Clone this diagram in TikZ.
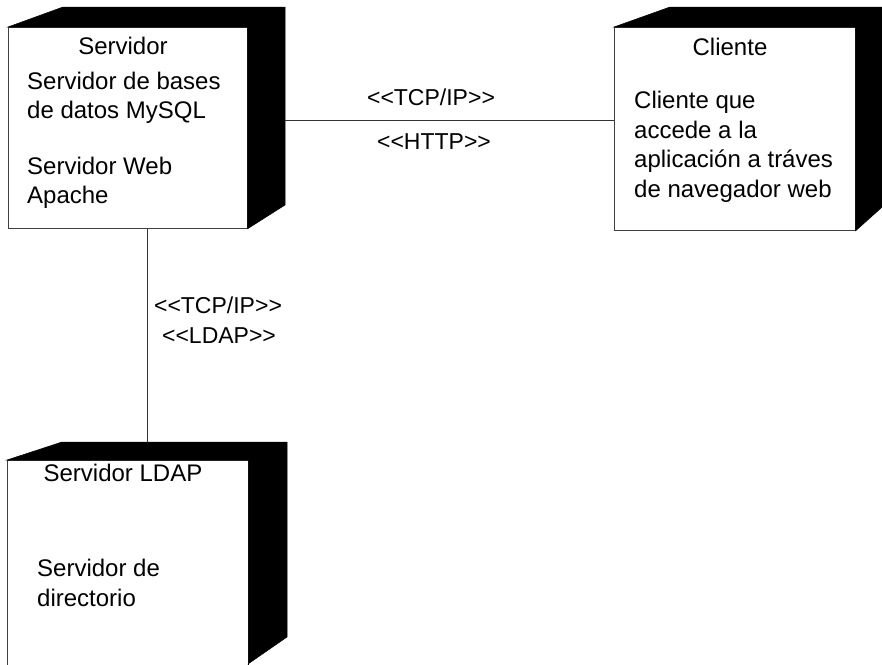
\documentclass[tikz,border=0pt]{standalone}
\usepackage{fontspec}
\setmainfont{Liberation Sans}
\begin{document}
\begin{tikzpicture}[x=1pt,y=-1pt,
  front/.style={draw=black!75,line width=0.7pt,fill=white,inner sep=0pt,anchor=north west},
  depth/.style={fill=black,draw=black,line width=0.5pt,line join=miter},
  txt/.style={inner sep=0pt,font=\fontsize{24}{29.5}\selectfont,align=left},
  lbl/.style={inner sep=0pt,font=\fontsize{23}{28}\selectfont},
  link/.style={draw=black!80,line width=0.7pt}]
\path[use as bounding box,clip] (0,0) rectangle (882,664);

% --- Servidor node (3D box) ---
\node[front,minimum width=239pt,minimum height=201pt] (srv) at (8,27) {};
\fill[depth] (srv.north west) -- ++(55,-20) -- (285,7) -- (285,205)
  -- (srv.south east) -- (srv.north east) -- cycle;
\node[txt] (srvtitle) at (123,46) {Servidor};
\node[txt,anchor=west] (srvdb) at (27,98) {Servidor de bases\\de datos MySQL};
\node[txt,anchor=west] (srvweb) at (27,183) {Servidor Web\\Apache};

% --- Cliente node ---
\node[front,minimum width=241pt,minimum height=203pt] (cli) at (614,27) {};
\fill[depth] (cli.north west) -- ++(56,-20) -- (890,7) -- (890,200)
  -- (cli.south east) -- (cli.north east) -- cycle;
\node[txt] (clititle) at (730,47) {Cliente};
\node[txt,anchor=west] (clitext) at (634,147)
  {Cliente que\\accede a la\\aplicación a tráves\\de navegador web};

% --- Servidor LDAP node ---
\node[front,minimum width=241pt,minimum height=215pt] (ldap) at (7,460) {};
\fill[depth] (ldap.north west) -- ++(55,-18) -- (287,442) -- (287,637)
  -- (248,664) -- (248,680) -- (ldap.north east |- 0,680) -- (ldap.north east) -- cycle;
\node[txt] (ldaptitle) at (123,473) {Servidor LDAP};
\node[txt,anchor=west] (ldaptext) at (37,583) {Servidor de\\directorio};

% --- connections ---
\coordinate (srvside) at (285,120);
\coordinate (ldaptop) at (147,442);
\draw[link] (srvside) -- (srvside -| cli.west);
\draw[link] (srv.south -| ldaptop) -- (ldaptop);

\node[lbl] (tcp1) at (431,97) {<{}<TCP/IP>{}>};
\node[lbl] (http) at (434,142) {<{}<HTTP>{}>};
\node[lbl] (tcp2) at (218,305) {<{}<TCP/IP>{}>};
\node[lbl] (ldapl) at (219,336) {<{}<LDAP>{}>};
\end{tikzpicture}
\end{document}
